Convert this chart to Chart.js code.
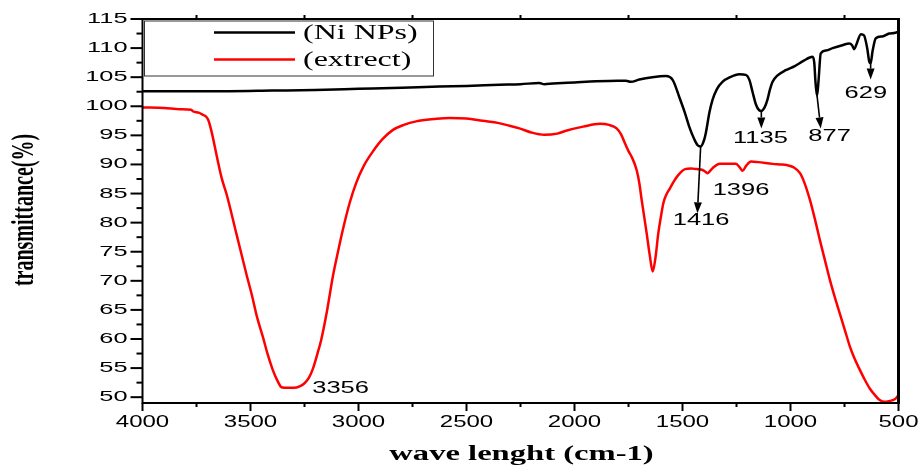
<!DOCTYPE html>
<html>
<head>
<meta charset="utf-8">
<script src="https://cdn.jsdelivr.net/npm/chart.js@4.4.1/dist/chart.umd.min.js"></script>
<style>
  html, body { margin: 0; padding: 0; background: #fff; }
  #wrap { width: 921px; height: 469px; }
</style>
</head>
<body>
<div id="wrap"><canvas id="ftir" width="921" height="469"></canvas></div>
<script>
// FTIR spectra: wavenumber (cm-1) and transmittance (%)
const extractWn = [4000, 3900, 3827, 3775, 3765, 3740, 3719, 3705, 3695, 3680, 3657, 3633, 3610, 3564, 3518, 3494, 3470, 3443, 3420, 3397, 3375, 3356, 3330, 3300, 3270, 3250, 3230, 3210, 3190, 3173, 3145, 3119, 3095, 3073, 3040, 3011, 2975, 2934, 2890, 2842, 2790, 2733, 2650, 2579, 2500, 2425, 2350, 2317, 2255, 2200, 2140, 2080, 2039, 1960, 1882, 1840, 1805, 1785, 1766, 1750, 1735, 1712, 1700, 1689, 1666, 1652, 1638, 1625, 1612, 1600, 1589, 1575, 1558, 1540, 1519, 1488, 1460, 1434, 1410, 1396, 1385, 1360, 1327, 1290, 1253, 1235, 1222, 1205, 1183, 1150, 1083, 1050, 1017, 985, 956, 935, 910, 887, 864, 841, 818, 795, 772, 748, 725, 702, 679, 656, 633, 610, 587, 564, 545, 526, 512, 503];
const extractT = [99.8, 99.7, 99.5, 99.4, 99.1, 98.9, 98.5, 98.2, 97.6, 95.6, 91.6, 87.6, 84.8, 77.9, 71.0, 67.6, 63.8, 60.4, 57.3, 54.7, 52.8, 51.7, 51.6, 51.6, 51.9, 52.4, 53.3, 55.0, 57.5, 59.8, 65.0, 70.7, 75.0, 78.7, 83.5, 86.8, 89.8, 92.2, 94.3, 95.9, 96.8, 97.4, 97.8, 98.0, 97.9, 97.5, 97.1, 96.8, 96.2, 95.5, 95.1, 95.3, 95.8, 96.5, 97.0, 96.8, 96.2, 95.2, 93.6, 92.3, 91.3, 89.0, 86.8, 83.9, 78.2, 74.5, 71.6, 74.0, 78.2, 81.0, 83.3, 84.8, 85.9, 87.1, 88.2, 89.2, 89.3, 89.2, 89.1, 88.8, 88.5, 89.4, 90.1, 90.1, 90.1, 89.5, 88.9, 89.8, 90.5, 90.4, 90.1, 90.0, 89.9, 89.5, 88.5, 86.8, 83.9, 80.6, 77.0, 73.6, 70.2, 67.2, 64.4, 61.5, 58.7, 56.5, 54.7, 53.0, 51.5, 50.4, 49.5, 49.2, 49.3, 49.5, 49.8, 50.2];

const niWn = [4000, 3800, 3600, 3400, 3200, 3000, 2800, 2626, 2500, 2348, 2250, 2163, 2140, 2100, 2000, 1900, 1800, 1762, 1739, 1700, 1640, 1577, 1545, 1515, 1490, 1469, 1445, 1430, 1416, 1400, 1392, 1375, 1361, 1340, 1315, 1280, 1237, 1207, 1190, 1176, 1160, 1145, 1135, 1120, 1107, 1095, 1083, 1060, 1022, 980, 940, 898, 890, 884, 877, 870, 860, 835, 805, 760, 728, 715, 705, 695, 674, 660, 645, 636, 629, 620, 605, 575, 543, 520, 500];
const niT = [102.6, 102.6, 102.6, 102.7, 102.8, 103.0, 103.2, 103.4, 103.5, 103.7, 103.8, 104.0, 103.8, 103.9, 104.1, 104.3, 104.4, 104.4, 104.2, 104.6, 105.0, 105.2, 104.5, 101.6, 99.0, 96.5, 94.3, 93.3, 93.1, 94.2, 95.4, 99.0, 101.1, 103.0, 104.2, 105.0, 105.5, 105.4, 104.5, 102.5, 100.3, 99.3, 99.2, 99.8, 101.1, 102.9, 104.2, 105.3, 106.2, 106.9, 107.8, 108.5, 107.5, 104.0, 101.8, 104.5, 109.1, 109.6, 110.0, 110.5, 110.8, 110.5, 109.8, 110.6, 112.4, 112.2, 110.0, 107.8, 107.4, 109.5, 111.7, 112.0, 112.5, 112.6, 112.8];

const xTicks = [4000, 3500, 3000, 2500, 2000, 1500, 1000, 500];
const yTicks = [50, 55, 60, 65, 70, 75, 80, 85, 90, 95, 100, 105, 110, 115];

// peak labels: text, label centre (wn, T), optional arrow from / to (wn, T)
const peaks = [
  { text: '3356', at: [3083, 51.5] },
  { text: '1416', at: [1414, 80.4], from: [1416, 93.1], to: [1431, 81.6] },
  { text: '1396', at: [1229, 85.6] },
  { text: '1135', at: [1139, 94.5], from: [1135, 99.2], to: [1135, 96.2] },
  { text: '877', at: [819, 94.9], from: [877, 101.8], to: [860, 96.2] },
  { text: '629', at: [651, 102.2], from: [629, 107.4], to: [629, 104.6] }
];

const toPoints = (xs, ys) => xs.map((x, i) => ({ x: x, y: ys[i] }));

// text in this figure is drawn wide, so squeeze it through a horizontal scale
function wideText(ctx, text, px, py, font, align, sx) {
  ctx.save();
  ctx.translate(px, py);
  ctx.scale(sx, 1);
  ctx.font = font;
  ctx.textAlign = align;
  ctx.textBaseline = 'middle';
  ctx.fillStyle = '#000';
  ctx.fillText(text, 0, 0);
  ctx.restore();
}

function arrow(ctx, x1, y1, x2, y2) {
  const ang = Math.atan2(y2 - y1, x2 - x1);
  const len = 11, half = 4;
  const bx = x2 - len * Math.cos(ang), by = y2 - len * Math.sin(ang);
  ctx.beginPath();
  ctx.moveTo(x1, y1);
  ctx.lineTo(bx, by);
  ctx.stroke();
  ctx.beginPath();
  ctx.moveTo(x2, y2);
  ctx.lineTo(bx + half * Math.sin(ang), by - half * Math.cos(ang));
  ctx.lineTo(bx - half * Math.sin(ang), by + half * Math.cos(ang));
  ctx.closePath();
  ctx.fill();
}

const framePlugin = {
  id: 'frame',
  afterDraw(chart) {
    const ctx = chart.ctx;
    const a = chart.chartArea;
    const x = chart.scales.x, y = chart.scales.y;
    ctx.save();
    ctx.strokeStyle = '#000';
    ctx.fillStyle = '#000';

    // box around the plot
    ctx.lineWidth = 2;
    ctx.beginPath();
    ctx.moveTo(a.right, a.top);
    ctx.lineTo(a.left, a.top);
    ctx.lineTo(a.left, a.bottom);
    ctx.lineTo(a.right, a.bottom);
    ctx.stroke();
    ctx.lineWidth = 3;
    ctx.beginPath();
    ctx.moveTo(a.right, a.top - 1);
    ctx.lineTo(a.right, a.bottom + 1);
    ctx.stroke();

    // tick marks
    ctx.lineWidth = 2;
    x.ticks.forEach(t => {
      const px = x.getPixelForValue(t.value);
      ctx.beginPath();
      ctx.moveTo(px, a.bottom);
      ctx.lineTo(px, a.bottom + 8);
      ctx.stroke();
      if (t.value > 500) {
        const pm = x.getPixelForValue(t.value - 250);
        ctx.beginPath();
        ctx.moveTo(pm, a.bottom);
        ctx.lineTo(pm, a.bottom + 4);
        ctx.moveTo(pm, a.top);
        ctx.lineTo(pm, a.top - 4);
        ctx.stroke();
      }
    });
    y.ticks.forEach(t => {
      const py = y.getPixelForValue(t.value);
      ctx.beginPath();
      ctx.moveTo(a.left, py);
      ctx.lineTo(a.left - 12, py);
      ctx.stroke();
      if (t.value < 115) {
        const pm = y.getPixelForValue(t.value + 2.5);
        ctx.beginPath();
        ctx.moveTo(a.left, pm);
        ctx.lineTo(a.left - 6, pm);
        ctx.stroke();
      }
    });

    // tick labels
    x.ticks.forEach(t => {
      wideText(ctx, String(t.value), x.getPixelForValue(t.value), a.bottom + 20,
        '16px "Liberation Sans"', 'center', 1.5);
    });
    y.ticks.forEach(t => {
      wideText(ctx, String(t.value), a.left - 15, y.getPixelForValue(t.value),
        '14.5px "Liberation Sans"', 'right', 1.75);
    });

    // axis titles
    wideText(ctx, 'wave lenght (cm-1)', (a.left + a.right) / 2 + 1, 455,
      'bold 20px "Liberation Serif"', 'center', 1.63);
    ctx.save();
    ctx.translate(25, 210);
    ctx.rotate(-Math.PI / 2);
    ctx.scale(1, 1.6);
    ctx.font = 'bold 20px "Liberation Serif"';
    ctx.textAlign = 'center';
    ctx.textBaseline = 'middle';
    ctx.fillText('transmittance(%)', 0, 0);
    ctx.restore();

    // peak markers
    ctx.lineWidth = 1.6;
    peaks.forEach(p => {
      if (p.from) {
        arrow(ctx, x.getPixelForValue(p.from[0]), y.getPixelForValue(p.from[1]),
          x.getPixelForValue(p.to[0]), y.getPixelForValue(p.to[1]));
      }
      wideText(ctx, p.text, x.getPixelForValue(p.at[0]), y.getPixelForValue(p.at[1]),
        '17px "Liberation Sans"', 'center', 1.5);
    });

    // legend box
    const lx = a.left + 1.5, ly = a.top + 1.5, lw = 289, lh = 55;
    ctx.fillStyle = '#fff';
    ctx.fillRect(lx, ly, lw, lh);
    ctx.strokeStyle = '#333';
    ctx.lineWidth = 1;
    ctx.strokeRect(lx + 0.5, ly + 0.5, lw, lh);
    chart.data.datasets.forEach((ds, i) => {
      const ry = a.top + 13.5 + i * 27;
      ctx.strokeStyle = ds.borderColor;
      ctx.lineWidth = 2.5;
      ctx.beginPath();
      ctx.moveTo(214, ry);
      ctx.lineTo(295, ry);
      ctx.stroke();
      wideText(ctx, ds.label, 303, ry + 1.5, '20px "Liberation Serif"', 'left', 1.6);
    });
    ctx.restore();
  }
};

const chart = new Chart(document.getElementById('ftir'), {
  type: 'line',
  data: {
    datasets: [
      {
        label: '(Ni NPs)',
        data: toPoints(niWn, niT),
        borderColor: '#000000',
        borderWidth: 2.5,
        pointRadius: 0,
        cubicInterpolationMode: 'monotone'
      },
      {
        label: '(extrect)',
        data: toPoints(extractWn, extractT),
        borderColor: '#ff0000',
        borderWidth: 2.5,
        pointRadius: 0,
        cubicInterpolationMode: 'monotone'
      }
    ]
  },
  options: {
    responsive: false,
    animation: false,
    events: [],
    layout: { padding: { left: 0, right: 22.5, top: 19, bottom: 0 } },
    plugins: { legend: { display: false }, tooltip: { enabled: false } },
    scales: {
      x: {
        type: 'linear',
        reverse: true,
        min: 500,
        max: 4000,
        grid: { display: false },
        border: { display: false },
        ticks: { display: false },
        afterBuildTicks: s => { s.ticks = xTicks.map(v => ({ value: v })); },
        afterFit: s => { s.height = 66; }
      },
      y: {
        type: 'linear',
        min: 49,
        max: 115,
        grid: { display: false },
        border: { display: false },
        ticks: { display: false },
        afterBuildTicks: s => { s.ticks = yTicks.map(v => ({ value: v })); },
        afterFit: s => { s.width = 142.5; }
      }
    }
  },
  plugins: [framePlugin]
});
</script>
</body>
</html>
